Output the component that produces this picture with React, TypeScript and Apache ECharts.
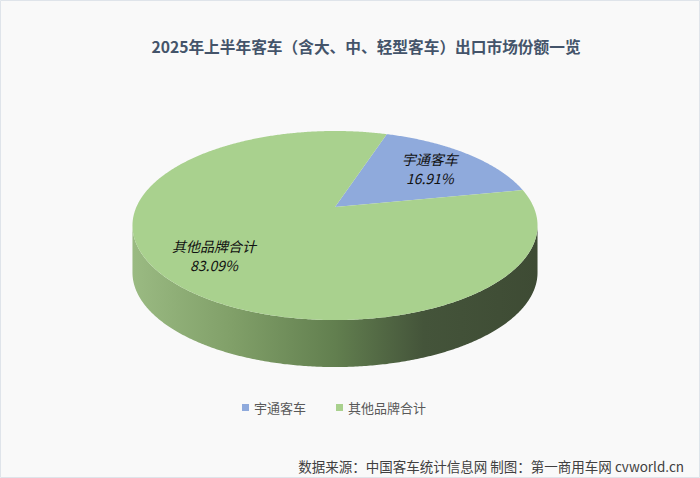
import React, { useEffect, useRef } from "react";
import * as echarts from "echarts";

// ---- data ----
const categories = ["宇通客车", "其他品牌合计"];
const shares = [16.91, 83.09];
const colors = ["#8faadc", "#a9d18e"];
const titleText = "2025年上半年客车（含大、中、轻型客车）出口市场份额一览";
const footerText = "数据来源：中国客车统计信息网 制图：第一商用车网 cvworld.cn";

// ---- 3D pie style/geometry ----
const CX = 335;
const CY = 207;
const RX = 198.6; // horizontal half-size before perspective
const RY = 90.9; // vertical half-size before perspective
const PERSP = 0.196; // perspective strength
const DEPTH = 47; // wall height
const START_DEG = 18; // first slice angle (clockwise from 12 o'clock)
const LABEL_R = 0.72;
const FONT = '"Noto Sans CJK SC", "Noto Sans", sans-serif';

const proj = (deg: number, r: number, dy: number) => {
  const t = (deg * Math.PI) / 180;
  const u = r * Math.sin(t);
  const v = r * Math.cos(t);
  const k = 1 + PERSP * v;
  return [CX + (RX * u) / k, CY - (RY * v) / k + dy];
};

const arcPts = (a0: number, a1: number, dy: number) => {
  const pts: number[][] = [];
  const n = Math.max(2, Math.ceil(Math.abs(a1 - a0) / 0.5));
  for (let i = 0; i <= n; i++) pts.push(proj(a0 + ((a1 - a0) * i) / n, 1, dy));
  return pts;
};

export default function App() {
  const ref = useRef<HTMLDivElement>(null);
  useEffect(() => {
    document.body.style.margin = "0";
    if (!ref.current) return;
    const chart = echarts.init(ref.current, undefined, { renderer: "svg" });
    const total = shares.reduce((a, b) => a + b, 0);
    const cum: number[] = [];
    shares.reduce((acc, v, i) => {
      cum[i] = acc;
      return acc + v;
    }, 0);

    const tangent = (Math.acos(-PERSP) * 180) / Math.PI; // visible wall from tangent to 360 - tangent
    const sideGrad = new echarts.graphic.LinearGradient(
      133, 0, 537, 0,
      [
        { offset: 0, color: "#9aba82" },
        { offset: 0.25, color: "#809f68" },
        { offset: 0.5, color: "#627f4f" },
        { offset: 0.72, color: "#44543a" },
        { offset: 1, color: "#3e4b34" },
      ],
      true
    );

    const series = categories.map((name, idx) => ({
      type: "custom",
      name,
      coordinateSystem: "none",
      silent: true,
      itemStyle: { color: colors[idx] },
      data: [[shares[idx], cum[idx]]],
      renderItem: (params: any, api: any) => {
        const val = api.value(0);
        const before = api.value(1);
        const a0 = START_DEG + (before / total) * 360;
        const a1 = a0 + (val / total) * 360;
        const children: any[] = [];
        // visible wall parts
        [0, 360].forEach((off) => {
          const lo = Math.max(a0, tangent + off);
          const hi = Math.min(a1, 360 - tangent + off);
          if (hi > lo) {
            const top = arcPts(lo, hi, 0);
            const bot = arcPts(hi, lo, DEPTH);
            children.push({
              type: "polygon",
              z2: 1,
              shape: { points: top.concat(bot) },
              style: { fill: sideGrad },
            });
          }
        });
        // top face
        const topPts = [proj(a0, 0, 0)].concat(arcPts(a0, a1, 0));
        children.push({
          type: "polygon",
          z2: 10,
          shape: { points: topPts },
          style: { fill: colors[idx] },
        });
        const mid = (a0 + a1) / 2;
        const lp = proj(mid, LABEL_R, 0);
        const pct = ((val / total) * 100).toFixed(2);
        children.push({
          type: "text",
          z2: 20,
          style: {
            text: `${name}\n${pct}%`,
            x: lp[0] - 3,
            y: lp[1] + 1,
            align: "center",
            verticalAlign: "middle",
            fontSize: 14,
            fontStyle: "italic",
            fontFamily: FONT,
            lineHeight: 19,
            fill: "#111111",
          },
        });
        return { type: "group", children };
      },
    }));

    chart.setOption({
      animation: false,
      backgroundColor: "#f9f9f9",
      legend: {
        data: categories,
        left: 242,
        top: 401,
        padding: 0,
        icon: "rect",
        itemWidth: 7,
        itemHeight: 7,
        itemGap: 30,
        textStyle: { fontSize: 13, color: "#595959", fontFamily: FONT },
      },
      graphic: [
        {
          type: "rect",
          shape: { x: 0.5, y: 0.5, width: 699, height: 477 },
          style: { fill: "none", stroke: "#dfe4ea", lineWidth: 1 },
          silent: true,
        },
        {
          type: "text",
          x: 366,
          y: 46,
          style: {
            text: titleText,
            align: "center",
            verticalAlign: "middle",
            fontSize: 15.7,
            fontWeight: "bold",
            fontFamily: FONT,
            fill: "#44546a",
          },
        },
        {
          type: "text",
          x: 684,
          y: 466,
          style: {
            text: footerText,
            align: "right",
            verticalAlign: "middle",
            fontSize: 13.5,
            fontFamily: FONT,
            fill: "#404040",
          },
        },
      ],
      series,
    });
    return () => chart.dispose();
  }, []);
  return <div ref={ref} style={{ width: 700, height: 478 }} />;
}
